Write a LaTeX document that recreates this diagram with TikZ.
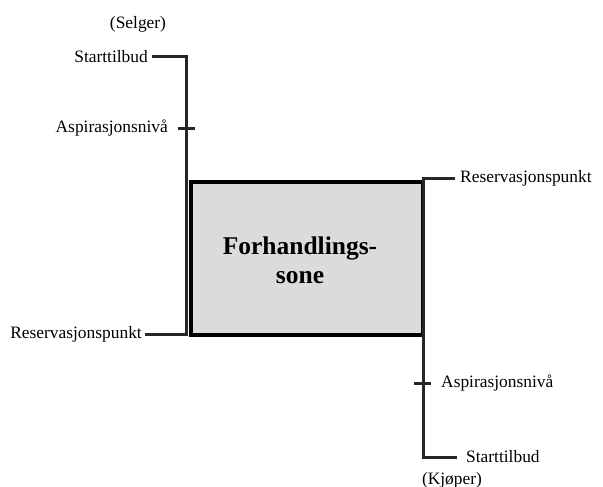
\documentclass[tikz,border=0pt]{standalone}
\usepackage{fontspec}
\setmainfont{Liberation Serif}
\begin{document}
\begin{tikzpicture}[x=1pt,y=-1pt,
  axis/.style={line width=3pt,draw=black!85},
  lbl/.style={font=\fontsize{17.4}{19}\selectfont,inner sep=0pt},
  zone/.style={draw=black,line width=3.5pt,fill=black!14}]
\useasboundingbox (0,0) rectangle (603,487);
% seller side
\coordinate (sTop) at (186,57);
\coordinate (sStartEnd) at (152,57);
\coordinate (sBot) at (186,334);
\coordinate (sResEnd) at (145,334);
\coordinate (sTickL) at (178,128);
\coordinate (sTickR) at (195,128);
% buyer side
\coordinate (bTop) at (423,178);
\coordinate (bResEnd) at (455,178);
\coordinate (bBot) at (423,457);
\coordinate (bStartEnd) at (457,457);
\coordinate (bTickL) at (414,383);
\coordinate (bTickR) at (431,383);
% negotiation zone
\node[zone,minimum width=232pt,minimum height=153pt,anchor=north west] (zone) at (189,180) {};
\node[font=\fontsize{25.5}{29}\selectfont\bfseries,align=center] (zt) at (300,260) {Forhandlings-\\sone};
\draw[axis] (sStartEnd) -- (sTop) -- (sBot) -- (sResEnd);
\draw[axis] (sTickL) -- (sTickR);
\draw[axis] (bResEnd) -- (bTop) -- (bBot) -- (bStartEnd);
\draw[axis] (bTickL) -- (bTickR);
% labels
\node[lbl] (selger) at (138,24) {(Selger)};
\node[lbl,anchor=east] (s1) at (148,57) {Starttilbud};
\node[lbl,anchor=east] (s2) at (168,128) {Aspirasjonsnivå};
\node[lbl,anchor=east] (s3) at (142,334) {Reservasjonspunkt};
\node[lbl,anchor=west] (b3) at (460,178) {Reservasjonspunkt};
\node[lbl,anchor=west] (b2) at (441,383) {Aspirasjonsnivå};
\node[lbl,anchor=west] (b1) at (466,457) {Starttilbud};
\node[lbl] (kjoper) at (452,480) {(Kjøper)};
\end{tikzpicture}
\end{document}
